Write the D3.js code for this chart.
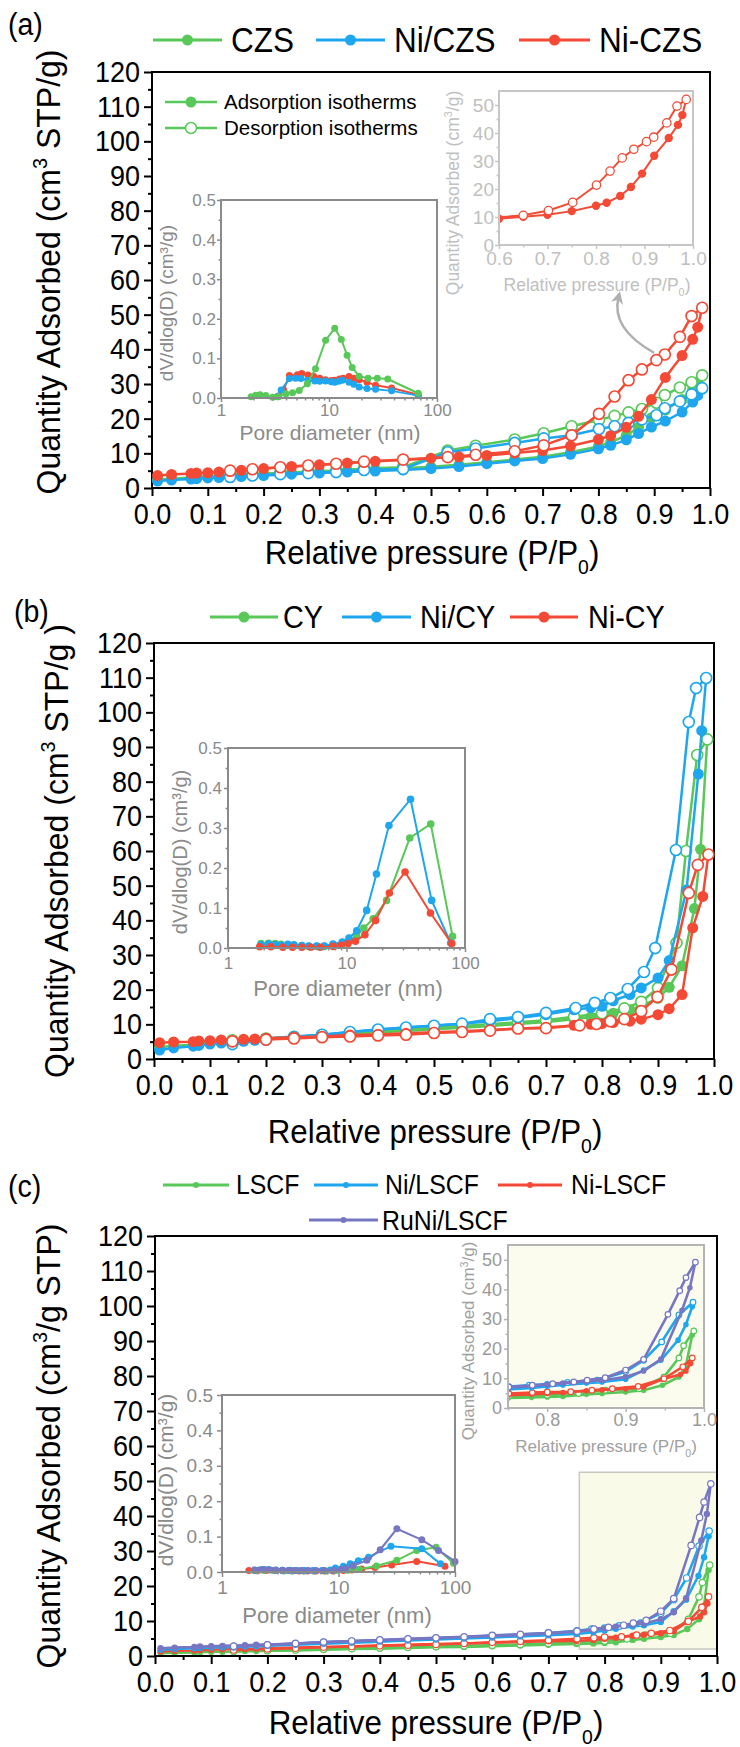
<!DOCTYPE html>
<html>
<head>
<meta charset="utf-8">
<script src="https://cdn.jsdelivr.net/npm/d3@7"></script>
<style>
  body { margin: 0; background: #fff; }
</style>
</head>
<body>
<svg id="fig" width="740" height="1747"></svg>
<script>
// ---------- data: panel (a) CZS family ----------
const aAdsP = [0.01,0.035,0.07,0.08,0.1,0.12,0.16,0.2,0.25,0.3,0.35,0.4,0.45,0.5,0.55,0.6,0.65,0.7,0.75,0.8,0.822,0.85,0.872,0.895,0.92,0.95,0.969,0.978];
const aDesP = [0.986,0.967,0.946,0.919,0.904,0.878,0.854,0.829,0.801,0.752,0.702,0.65,0.58,0.53,0.45,0.38,0.33,0.28,0.23,0.18,0.14];
const czsAds   = [2.4,2.7,3.0,3.1,3.3,3.4,3.8,4.1,4.5,4.8,5.1,5.4,5.7,6.1,6.7,7.4,8.2,9.0,10.3,12.0,13.2,15.2,17.5,20.3,22.5,25.5,28.5,30.5];
const czsDes   = [32.5,30.5,29.0,26.8,24.6,22.8,21.8,20.8,19.6,17.8,15.8,14.0,12.2,10.8,6.0,5.6,5.0,4.7,4.3,3.9,3.5];
const niCzsAds = [2.0,2.3,2.6,2.7,2.9,3.0,3.3,3.6,4.0,4.3,4.6,4.9,5.2,5.6,6.2,7.0,7.8,8.5,9.7,11.3,12.3,13.9,15.7,17.6,19.3,21.9,24.8,26.7];
const niCzsDes = [28.8,27.0,25.0,23.0,21.0,19.8,18.8,17.8,17.0,15.2,14.3,13.0,11.4,10.3,5.5,5.2,4.6,4.3,4.0,3.6,3.2];
const niDCzsAds = [3.6,3.9,4.2,4.3,4.4,4.6,5.1,5.6,6.2,6.7,7.2,7.7,8.1,8.6,9.0,9.4,10.1,10.8,12.1,14.0,15.1,17.5,20.7,25.5,31.9,38.2,42.9,46.4];
const niDCzsDes = [52.0,49.6,43.6,38.5,36.9,34.2,31.1,26.4,21.4,15.2,12.3,10.6,9.6,8.9,8.2,7.6,7.0,6.5,6.0,5.4,5.0];
// pore size distributions (a)
const aPsdGreenD = [1.9,2.1,2.3,2.6,3.0,3.4,4.0,4.6,5.3,6.3,7.5,9.3,11.3,13.0,14.7,16.4,19,23,28,35,67];
const aPsdGreenV = [0.003,0.007,0.008,0.006,0.002,0.003,0.011,0.013,0.019,0.036,0.074,0.146,0.176,0.148,0.108,0.077,0.055,0.05,0.05,0.048,0.012];
const aPsdBlueD  = [3.3,3.6,4.3,4.9,5.5,6.4,7.4,8.2,9.3,10.5,11.3,12.3,13.3,15.3,17,19,22.5,27,38,67];
const aPsdBlueV  = [0.003,0.02,0.049,0.05,0.049,0.045,0.043,0.042,0.043,0.041,0.04,0.042,0.045,0.04,0.035,0.028,0.024,0.022,0.018,0.006];
const aPsdRedD   = [3.4,3.8,4.3,5.1,5.6,6.4,7.2,8.2,9.3,10.5,11.3,12.5,13.5,15.3,17,19,22.5,27,38,67];
const aPsdRedV   = [0.005,0.02,0.057,0.059,0.062,0.058,0.055,0.05,0.046,0.044,0.045,0.048,0.05,0.054,0.05,0.046,0.04,0.032,0.025,0.008];

// ---------- data: panel (b) CY family ----------
const cyAdsP = [0.01,0.035,0.07,0.08,0.1,0.12,0.16,0.18,0.2,0.25,0.3,0.35,0.4,0.45,0.5,0.55,0.6,0.65,0.7,0.75,0.78,0.8,0.82,0.85,0.87,0.9,0.92,0.943,0.965,0.976];
const cyAds  = [3.4,3.8,4.1,4.3,4.6,4.9,5.3,5.5,5.8,6.3,6.8,7.3,7.7,8.1,8.6,9.0,9.5,10.1,10.7,11.5,12.1,12.5,13.2,14.2,15.3,17.5,20.7,26.9,43.4,60.5];
const cyDesP = [0.988,0.97,0.95,0.933,0.9,0.87,0.84,0.8,0.75,0.7,0.65,0.6,0.55,0.5,0.45,0.4,0.35,0.3,0.25,0.2,0.14];
const cyDes  = [92.2,87.7,60,33.5,20.5,16.5,14.6,13.2,12.2,11.2,10.6,10.0,9.5,9.0,8.5,8.0,7.4,6.9,6.4,5.9,5.4];
const niCyAdsP = [0.01,0.035,0.07,0.08,0.1,0.12,0.16,0.18,0.2,0.25,0.3,0.35,0.4,0.45,0.5,0.55,0.6,0.65,0.7,0.75,0.78,0.8,0.82,0.85,0.87,0.9,0.92,0.951,0.972,0.978];
const niCyAds  = [2.6,3.2,3.7,3.9,4.3,4.6,5.1,5.4,5.9,6.5,7.0,7.8,8.5,9.1,9.7,10.2,10.9,11.8,12.8,14.2,14.8,15.2,16.8,18.6,20.5,23.4,28.4,48.8,82.2,94.7];
const niCyDesP = [0.986,0.968,0.955,0.932,0.895,0.875,0.846,0.815,0.787,0.753,0.7,0.65,0.6,0.55,0.5,0.45,0.4,0.35,0.3,0.25,0.2,0.14];
const niCyDes  = [109.9,107,97.2,60.3,32.0,25.1,20.2,17.6,16.2,14.7,13.3,12.1,11.5,10.2,9.6,9.1,8.5,7.8,7.0,6.3,5.6,4.3];
const niDCyAdsP = [0.01,0.035,0.07,0.08,0.1,0.12,0.16,0.18,0.2,0.25,0.3,0.35,0.4,0.45,0.5,0.55,0.6,0.65,0.7,0.75,0.78,0.8,0.82,0.85,0.87,0.9,0.92,0.943,0.962,0.98];
const niDCyAds  = [4.7,4.9,5.0,5.2,5.3,5.5,5.7,5.8,6.0,6.3,6.5,6.9,7.1,7.4,7.7,8.0,8.4,8.8,9.1,9.7,10.0,10.2,10.5,10.9,11.5,12.8,14.5,18.6,37.8,46.9];
const niDCyDesP = [0.99,0.971,0.955,0.924,0.899,0.87,0.84,0.815,0.79,0.76,0.7,0.65,0.6,0.55,0.5,0.45,0.4,0.35,0.3,0.25,0.2,0.14];
const niDCyDes  = [59,56,47.9,25.8,17.9,13.8,11.5,10.9,10.1,9.7,8.9,8.8,8.2,7.8,7.5,7.0,6.8,6.5,6.3,5.9,5.6,5.1];
// pore size distributions (b)
const bPsdBlueD  = [1.9,2.2,2.5,2.8,3.2,3.6,4.2,4.8,5.6,6.5,7.7,9.2,10.5,12.2,14.8,17.9,22.8,34.7,52.3,75.7];
const bPsdBlueV  = [0.008,0.01,0.008,0.007,0.009,0.008,0.006,0.005,0.005,0.005,0.01,0.015,0.025,0.043,0.094,0.185,0.306,0.372,0.119,0.0125];
const bPsdGreenD = [1.9,2.2,2.5,2.8,3.2,3.6,4.2,4.8,5.6,6.5,7.7,9.2,10.5,12.2,14,16.8,21.8,34.2,51.4,78.5];
const bPsdGreenV = [0.011,0.012,0.011,0.009,0.008,0.007,0.005,0.004,0.004,0.004,0.006,0.01,0.018,0.03,0.05,0.073,0.119,0.275,0.31,0.029];
const bPsdRedD   = [1.85,2.3,2.9,3.5,4.2,5,6,7.7,9,10.3,11.9,14.3,17.6,23,31.2,51.1,77.4];
const bPsdRedV   = [0.003,0.003,0.002,0.002,0.002,0.002,0.002,0.004,0.007,0.011,0.017,0.033,0.069,0.1375,0.19,0.0875,0.011];

// ---------- data: panel (c) LSCF family ----------
const lscfAdsP = [0.01,0.035,0.07,0.08,0.1,0.12,0.14,0.16,0.18,0.2,0.25,0.3,0.35,0.4,0.45,0.5,0.55,0.6,0.65,0.7,0.75,0.78,0.8,0.82,0.85,0.87,0.9,0.923,0.947,0.968,0.977,0.985];
const lscfAds  = [0.8,0.9,1.0,1.1,1.2,1.2,1.3,1.4,1.4,1.5,1.6,1.8,2.0,2.1,2.3,2.5,2.6,2.8,3.0,3.2,3.4,3.6,3.7,3.9,4.6,4.9,5.4,6.0,7.7,10.5,14.4,24.6];
const lscfDesP = [0.987,0.974,0.968,0.949,0.917,0.874,0.84,0.8,0.751,0.7,0.65,0.6,0.55,0.5,0.45,0.4,0.35,0.3,0.25,0.2,0.14];
const lscfDes  = [26,21,16.9,10.5,6.5,6.0,4.9,4.3,4.0,3.6,3.3,3.1,2.9,2.7,2.5,2.3,2.1,1.9,1.7,1.5,1.3];
const niLscfAdsP = [0.01,0.035,0.07,0.08,0.1,0.12,0.14,0.16,0.18,0.2,0.25,0.3,0.35,0.4,0.45,0.5,0.55,0.6,0.65,0.7,0.75,0.78,0.8,0.82,0.85,0.87,0.9,0.923,0.945,0.967,0.977,0.985];
const niLscfAds  = [1.8,2.0,2.2,2.3,2.4,2.5,2.6,2.7,2.8,2.9,3.2,3.5,3.8,4.1,4.4,4.7,5.0,5.3,5.6,5.9,6.3,6.8,7.3,7.8,8.4,8.8,9.7,12.8,16.1,22.9,28.2,34.2];
const niLscfDesP = [0.986,0.968,0.946,0.923,0.9,0.864,0.826,0.8,0.777,0.751,0.7,0.6,0.5,0.45,0.4,0.35,0.3,0.25,0.2,0.14];
const niLscfDes  = [35.7,31.4,22.3,16.1,12.2,9.4,8.6,8.0,7.7,7.2,6.6,5.8,5.1,4.8,4.5,4.2,3.9,3.5,3.1,2.6];
const niDLscfAdsP = [0.01,0.035,0.07,0.08,0.1,0.12,0.14,0.16,0.18,0.2,0.25,0.3,0.35,0.4,0.45,0.5,0.55,0.6,0.65,0.7,0.75,0.78,0.8,0.82,0.85,0.87,0.9,0.923,0.947,0.97,0.977,0.983];
const niDLscfAds  = [1.3,1.5,1.6,1.7,1.8,1.9,2.0,2.0,2.1,2.2,2.4,2.6,2.8,3.0,3.2,3.4,3.6,3.8,4.0,4.2,4.3,4.6,4.9,5.2,5.8,6.1,6.5,7.1,9.7,11.3,12.5,15.0];
const niDLscfDesP = [0.985,0.973,0.949,0.916,0.883,0.857,0.83,0.8,0.781,0.751,0.7,0.65,0.6,0.55,0.5,0.45,0.4,0.35,0.3,0.25,0.2,0.14];
const niDLscfDes  = [16.9,13.9,9.9,7.3,6.5,6.0,5.5,5.4,5.2,4.9,4.5,4.2,3.9,3.6,3.3,3.1,2.9,2.7,2.5,2.2,2.0,1.7];
const ruNiAdsP = [0.01,0.035,0.07,0.08,0.1,0.12,0.14,0.16,0.18,0.2,0.25,0.3,0.35,0.4,0.45,0.5,0.55,0.6,0.65,0.7,0.75,0.78,0.8,0.82,0.85,0.87,0.9,0.923,0.945,0.972,0.982];
const ruNiAds  = [2.2,2.4,2.6,2.7,2.8,2.9,3.0,3.1,3.2,3.3,3.6,3.9,4.2,4.5,4.8,5.1,5.4,5.7,6.0,6.4,6.9,7.4,7.9,8.4,9.0,9.3,10.5,12.5,16.5,33,40.6];
const ruNiDesP = [0.989,0.977,0.969,0.954,0.923,0.9,0.874,0.851,0.834,0.807,0.781,0.751,0.7,0.65,0.6,0.55,0.5,0.45,0.4,0.35,0.3,0.25,0.2,0.14];
const ruNiDes  = [49.2,44,39.6,31.6,16.4,12.8,10.2,9.4,8.8,8.2,7.7,7.1,6.6,6.2,5.9,5.5,5.2,4.9,4.6,4.3,4.0,3.6,3.2,2.8];
// pore size distributions (c)
const cPsdPurpleD = [1.9,2.1,2.3,2.6,2.9,3.3,3.7,4.2,4.8,5.5,6.4,7.5,9,10.5,11.5,13.4,17.5,22.8,31.7,51.9,72.2,100];
const cPsdPurpleV = [0.005,0.006,0.007,0.006,0.005,0.005,0.004,0.004,0.004,0.004,0.004,0.004,0.005,0.007,0.01,0.018,0.033,0.063,0.122,0.091,0.061,0.03];
const cPsdBlueD   = [1.9,2.2,2.5,2.9,3.3,3.8,4.4,5.1,6,7.2,8.5,9.4,11,12.6,14.8,18.1,28.2,51.9,75];
const cPsdBlueV   = [0.006,0.007,0.007,0.006,0.005,0.005,0.004,0.004,0.004,0.004,0.006,0.011,0.016,0.023,0.032,0.042,0.073,0.066,0.023];
const cPsdGreenD  = [1.9,2.3,2.8,3.4,4,5,6.2,7.8,9.5,12,15,21.2,31.7,46.9,68.8,97];
const cPsdGreenV  = [0.004,0.004,0.004,0.003,0.003,0.003,0.003,0.003,0.004,0.005,0.008,0.017,0.033,0.061,0.07,0.025];
const cPsdRedD    = [1.7,2.0,2.4,2.8,3.3,3.9,4.6,5.4,6.4,7.6,9,11,13,15.8,20.6,28.6,46.9,82];
const cPsdRedV    = [0.004,0.004,0.004,0.004,0.004,0.004,0.003,0.003,0.003,0.003,0.003,0.004,0.006,0.0085,0.013,0.02,0.03,0.016];

// axis ticks
const yMajor = d3.range(0, 121, 10), yMinor = d3.range(5, 120, 10);
const xMajor = d3.range(0, 11).map(i => i / 10), xMinor = d3.range(0, 10).map(i => i / 10 + 0.05);
const psdYMajor = [0, 0.1, 0.2, 0.3, 0.4, 0.5], psdYMinor = [0.05, 0.15, 0.25, 0.35, 0.45];
const logMinor = [2,3,4,5,6,7,8,9,20,30,40,50,60,70,80,90];

const FONT = '"Liberation Sans", Arial, Helvetica, sans-serif';
const COL = {green: "#58c858", blue: "#1ea6ee", red: "#f44a35", purple: "#7676c2"};
const svg = d3.select("#fig").attr("font-family", FONT);

function pts(p, v) { return p.map((x, i) => [x, v[i]]); }

// squeeze a text horizontally around its own x (the figure uses a narrow face)
function squeeze(sel, sx) {
  if (!sx || sx === 1) return;
  sel.each(function() {
    const t = d3.select(this), x = +t.attr("x") || 0;
    t.attr("transform", `translate(${x},0) scale(${sx},1) translate(${-x},0)`);
  });
}

function styleAxis(sel, o) {
  sel.select(".domain").remove();
  sel.selectAll(".tick line").attr("stroke", o.color).attr("stroke-width", o.sw);
  sel.selectAll(".tick text").attr("fill", o.text).attr("font-size", o.fs).attr("font-family", FONT);
  squeeze(sel.selectAll(".tick text"), o.sx);
}

function addAxes(g, x, y, o) {
  const [x0, x1] = x.range(), [yb, yt] = y.range();
  const ya = g.append("g").attr("transform", `translate(${x0},0)`)
    .call(d3.axisLeft(y).tickValues(o.yMajor).tickFormat(o.yFmt).tickSize(o.tMaj).tickPadding(o.padY));
  styleAxis(ya, o);
  if (o.yMinor) styleAxis(g.append("g").attr("transform", `translate(${x0},0)`)
    .call(d3.axisLeft(y).tickValues(o.yMinor).tickFormat(() => "").tickSize(o.tMin)), o);
  const xa = g.append("g").attr("transform", `translate(0,${yb})`)
    .call(d3.axisBottom(x).tickValues(o.xMajor).tickFormat(o.xFmt).tickSize(o.tMaj).tickPadding(o.padX));
  styleAxis(xa, o);
  if (o.xMinor) styleAxis(g.append("g").attr("transform", `translate(0,${yb})`)
    .call(d3.axisBottom(x).tickValues(o.xMinor).tickFormat(() => "").tickSize(o.tMin)), o);
  g.append("rect").attr("x", x0).attr("y", yt).attr("width", x1 - x0).attr("height", yb - yt)
    .attr("fill", "none").attr("stroke", o.frame || o.color).attr("stroke-width", o.fw || o.sw);
}

// text with sub/superscript parts
function richText(g, x, y, parts, fs, color, rotate, sx) {
  const t = g.append("text").attr("text-anchor", "middle").attr("fill", color).attr("font-size", fs)
    .attr("transform", `translate(${x},${y})` + (rotate ? " rotate(-90)" : "") + (sx ? ` scale(${sx},1)` : ""));
  let shift = 0;
  parts.forEach(p => {
    const [txt, kind] = Array.isArray(p) ? p : [p, ""];
    const target = kind === "sup" ? -fs * 0.38 : kind === "sub" ? fs * 0.3 : 0;
    const ts = t.append("tspan").text(txt).attr("dy", target - shift);
    if (kind) ts.attr("font-size", fs * 0.62);
    shift = target;
  });
  return t;
}

function drawIso(g, x, y, s, r, sw, clip) {
  const line = d3.line().x(d => x(d[0])).y(d => y(d[1]));
  const A = pts(s.adsP, s.ads), D = pts(s.desP, s.des);
  const gg = g.append("g");
  if (clip) gg.attr("clip-path", `url(#${clip})`);
  gg.append("path").attr("d", line(A.concat([D[0]]))).attr("fill", "none").attr("stroke", s.color).attr("stroke-width", sw);
  gg.append("path").attr("d", line(D)).attr("fill", "none").attr("stroke", s.color).attr("stroke-width", sw);
  gg.selectAll(null).data(A).join("circle").attr("cx", d => x(d[0])).attr("cy", d => y(d[1])).attr("r", r)
    .attr("fill", s.color);
  gg.selectAll(null).data(D).join("circle").attr("cx", d => x(d[0])).attr("cy", d => y(d[1])).attr("r", r)
    .attr("fill", "#fff").attr("stroke", s.color).attr("stroke-width", Math.max(1.2, r * 0.3));
}

function drawPsd(g, x, y, s, r, sw) {
  const line = d3.line().x(d => x(d[0])).y(d => y(d[1]));
  const P = pts(s.d, s.v);
  g.append("path").attr("d", line(P)).attr("fill", "none").attr("stroke", s.color).attr("stroke-width", sw);
  g.selectAll(null).data(P).join("circle").attr("cx", d => x(d[0])).attr("cy", d => y(d[1])).attr("r", r).attr("fill", s.color);
}

function legendItem(g, x0, x1, yLine, tx, ty, label, color, fs, r, sw, sx) {
  g.append("line").attr("x1", x0).attr("x2", x1).attr("y1", yLine).attr("y2", yLine).attr("stroke", color).attr("stroke-width", sw);
  g.append("circle").attr("cx", (x0 + x1) / 2).attr("cy", yLine).attr("r", r).attr("fill", color);
  squeeze(g.append("text").attr("x", tx).attr("y", ty).attr("font-size", fs).text(label), sx);
}

function clipRect(id, x, y) {
  const [x0, x1] = x.range(), [yb, yt] = y.range();
  svg.append("clipPath").attr("id", id).append("rect").attr("x", x0).attr("y", yt).attr("width", x1 - x0).attr("height", yb - yt);
}

const mainOpt = {color: "#000", text: "#000", fs: 30, sx: 0.9, sw: 2, tMaj: 8, tMin: 4, padX: 7, padY: 4,
  yMajor, yMinor, xMajor, xMinor, yFmt: d3.format("d"), xFmt: d3.format(".1f")};
const grayPsd = {color: "#8a8a8a", text: "#8a8a8a", sw: 1.5, fw: 2, tMaj: 4, tMin: 2.5,
  yMajor: psdYMajor, yMinor: psdYMinor, xMajor: [1, 10, 100], xMinor: logMinor, yFmt: d3.format(".1f"), xFmt: d3.format("d")};
const TITLE = 33;

// ================= panel (a) =================
{
  const g = svg.append("g");
  const x = d3.scaleLinear().domain([0, 1]).range([152, 710]);
  const y = d3.scaleLinear().domain([0, 120]).range([488, 72]);
  squeeze(g.append("text").attr("x", 8).attr("y", 35).attr("font-size", 31).text("(a)"), 0.92);
  legendItem(g, 153, 222, 40, 231, 52, "CZS", COL.green, 35, 5.5, 3, 0.9);
  legendItem(g, 316, 385, 40, 394, 52, "Ni/CZS", COL.blue, 35, 5.5, 3, 0.9);
  legendItem(g, 519, 590, 40, 599, 52, "Ni-CZS", COL.red, 35, 5.5, 3, 0.9);
  addAxes(g, x, y, mainOpt);
  richText(g, 60, 272, ["Quantity Adsorbed (cm", ["3", "sup"], " STP/g)"], TITLE, "#000", true, 0.97);
  richText(g, 432, 564, ["Relative pressure (P/P", ["0", "sub"], ")"], TITLE, "#000", false, 0.95);

  // sub-legend
  g.append("line").attr("x1", 165).attr("x2", 217).attr("y1", 102).attr("y2", 102).attr("stroke", COL.green).attr("stroke-width", 2.5);
  g.append("circle").attr("cx", 191).attr("cy", 102).attr("r", 5.5).attr("fill", COL.green);
  g.append("text").attr("x", 224).attr("y", 109).attr("font-size", 20.5).text("Adsorption isotherms");
  g.append("line").attr("x1", 165).attr("x2", 217).attr("y1", 128).attr("y2", 128).attr("stroke", COL.green).attr("stroke-width", 2.5);
  g.append("circle").attr("cx", 191).attr("cy", 128).attr("r", 5.5).attr("fill", "#fff").attr("stroke", COL.green).attr("stroke-width", 1.5);
  g.append("text").attr("x", 224).attr("y", 135).attr("font-size", 20.5).text("Desorption isotherms");

  const series = [
    {adsP: aAdsP, ads: czsAds, desP: aDesP, des: czsDes, color: COL.green},
    {adsP: aAdsP, ads: niCzsAds, desP: aDesP, des: niCzsDes, color: COL.blue},
    {adsP: aAdsP, ads: niDCzsAds, desP: aDesP, des: niDCzsDes, color: COL.red}
  ];
  series.forEach(s => drawIso(g, x, y, s, 5.5, 2.5));

  // PSD inset
  const ix = d3.scaleLog().domain([1, 100]).range([221, 437]);
  const iy = d3.scaleLinear().domain([0, 0.5]).range([398, 200]);
  const gi = g.append("g");
  gi.append("rect").attr("x", 221).attr("y", 200).attr("width", 216).attr("height", 198).attr("fill", "#fff");
  [{d: aPsdRedD, v: aPsdRedV, color: COL.red}, {d: aPsdBlueD, v: aPsdBlueV, color: COL.blue},
   {d: aPsdGreenD, v: aPsdGreenV, color: COL.green}].forEach(s => drawPsd(gi, ix, iy, s, 3.5, 2));
  addAxes(gi, ix, iy, Object.assign({}, grayPsd, {fs: 17, padX: 2, padY: 1}));
  richText(gi, 173, 303, ["dV/dlog(D) (cm³/g)"], 19, "#8a8a8a", true);
  richText(gi, 330, 440, ["Pore diameter (nm)"], 21, "#8a8a8a");

  // hysteresis inset (Ni-CZS)
  const hx = d3.scaleLinear().domain([0.6, 1.0]).range([499, 693]);
  const hy = d3.scaleLinear().domain([0, 55]).range([245, 91]);
  clipRect("clipA", hx, hy);
  const gh = g.append("g");
  drawIso(gh, hx, hy, series[2], 4.2, 2, "clipA");
  addAxes(gh, hx, hy, {color: "#c6c6c6", text: "#c0c0c0", fs: 19, sw: 1.5, fw: 2, tMaj: 4, tMin: 2.5, padX: 3, padY: 1,
    yMajor: [0, 10, 20, 30, 40, 50], yMinor: [5, 15, 25, 35, 45], xMajor: [0.6, 0.7, 0.8, 0.9, 1.0], xMinor: [0.65, 0.75, 0.85, 0.95],
    yFmt: d3.format("d"), xFmt: d3.format(".1f")});
  richText(gh, 459, 193, ["Quantity Adsorbed (cm", ["3", "sup"], "/g)"], 17.5, "#c0c0c0", true);
  richText(gh, 597, 291, ["Relative pressure (P/P", ["0", "sub"], ")"], 17.5, "#c0c0c0");

  // arrow from curve to inset
  const defs = svg.append("defs");
  defs.append("marker").attr("id", "arrowA").attr("viewBox", "0 0 10 10").attr("refX", 5).attr("refY", 5)
    .attr("markerWidth", 5).attr("markerHeight", 5).attr("orient", "auto")
    .append("path").attr("d", "M0,0 L10,5 L0,10 L3,5 Z").attr("fill", "#b0b0b0");
  const arrowPts = [[0.9, 39], [0.822, 46], [0.836, 55]];
  g.append("path")
    .attr("d", `M${x(arrowPts[0][0])},${y(arrowPts[0][1])} Q${x(arrowPts[1][0])},${y(arrowPts[1][1])} ${x(arrowPts[2][0])},${y(arrowPts[2][1])}`)
    .attr("fill", "none").attr("stroke", "#b0b0b0").attr("stroke-width", 2.5).attr("marker-end", "url(#arrowA)");
}

// ================= panel (b) =================
{
  const g = svg.append("g");
  const x = d3.scaleLinear().domain([0, 1]).range([154, 714]);
  const y = d3.scaleLinear().domain([0, 120]).range([1059, 643]);
  squeeze(g.append("text").attr("x", 14).attr("y", 622).attr("font-size", 31).text("(b)"), 0.92);
  legendItem(g, 210, 278, 617, 283, 628, "CY", COL.green, 32, 5.5, 3, 0.9);
  legendItem(g, 342, 411, 617, 420, 628, "Ni/CY", COL.blue, 32, 5.5, 3, 0.9);
  legendItem(g, 510, 578, 617, 588, 628, "Ni-CY", COL.red, 32, 5.5, 3, 0.9);
  addAxes(g, x, y, mainOpt);
  richText(g, 68, 851, ["Quantity Adsorbed (cm", ["3", "sup"], " STP/g )"], TITLE, "#000", true, 0.97);
  richText(g, 435, 1143, ["Relative pressure (P/P", ["0", "sub"], ")"], TITLE, "#000", false, 0.95);

  [{adsP: cyAdsP, ads: cyAds, desP: cyDesP, des: cyDes, color: COL.green},
   {adsP: niCyAdsP, ads: niCyAds, desP: niCyDesP, des: niCyDes, color: COL.blue},
   {adsP: niDCyAdsP, ads: niDCyAds, desP: niDCyDesP, des: niDCyDes, color: COL.red}]
    .forEach(s => drawIso(g, x, y, s, 5.5, 2.5));

  const ix = d3.scaleLog().domain([1, 100]).range([228, 465]);
  const iy = d3.scaleLinear().domain([0, 0.5]).range([948, 748]);
  const gi = g.append("g");
  [{d: bPsdGreenD, v: bPsdGreenV, color: COL.green}, {d: bPsdBlueD, v: bPsdBlueV, color: COL.blue},
   {d: bPsdRedD, v: bPsdRedV, color: COL.red}].forEach(s => drawPsd(gi, ix, iy, s, 3.8, 2));
  addAxes(gi, ix, iy, Object.assign({}, grayPsd, {fs: 17, padX: 5, padY: 2}));
  richText(gi, 187, 852, ["dV/dlog(D) (cm³/g)"], 20, "#8a8a8a", true);
  richText(gi, 348, 996, ["Pore diameter (nm)"], 22, "#8a8a8a");
}

// ================= panel (c) =================
{
  const g = svg.append("g");
  const x = d3.scaleLinear().domain([0, 1]).range([155, 717]);
  const y = d3.scaleLinear().domain([0, 120]).range([1656, 1236]);
  squeeze(g.append("text").attr("x", 8).attr("y", 1197).attr("font-size", 31).text("(c)"), 0.92);
  legendItem(g, 163, 229, 1185, 236, 1194, "LSCF", COL.green, 27, 3, 3, 0.92);
  legendItem(g, 314, 378, 1185, 385, 1194, "Ni/LSCF", COL.blue, 27, 3, 3, 0.92);
  legendItem(g, 498, 562, 1185, 571, 1194, "Ni-LSCF", COL.red, 27, 3, 3, 0.92);
  legendItem(g, 309, 378, 1220, 382, 1230, "RuNi/LSCF", COL.purple, 27, 3, 3, 0.92);

  const series = [
    {adsP: lscfAdsP, ads: lscfAds, desP: lscfDesP, des: lscfDes, color: COL.green},
    {adsP: niDLscfAdsP, ads: niDLscfAds, desP: niDLscfDesP, des: niDLscfDes, color: COL.red},
    {adsP: niLscfAdsP, ads: niLscfAds, desP: niLscfDesP, des: niLscfDes, color: COL.blue},
    {adsP: ruNiAdsP, ads: ruNiAds, desP: ruNiDesP, des: ruNiDes, color: COL.purple}
  ];
  // zoom region highlighted in the main plot
  const box = {p: [0.755, 1.0], q: [2, 52.5]};
  g.append("rect").attr("x", x(box.p[0])).attr("y", y(box.q[1])).attr("width", x(box.p[1]) - x(box.p[0]))
    .attr("height", y(box.q[0]) - y(box.q[1])).attr("fill", "#fafae8").attr("stroke", "#c8c8c0").attr("stroke-width", 1.5);
  series.forEach(s => drawIso(g, x, y, s, 3.2, 2.5));
  addAxes(g, x, y, mainOpt);
  richText(g, 60, 1446, ["Quantity Adsorbed (cm", ["3", "sup"], "/g STP)"], TITLE, "#000", true, 0.97);
  richText(g, 436, 1734, ["Relative pressure (P/P", ["0", "sub"], ")"], TITLE, "#000", false, 0.95);

  // upper right inset
  const hx = d3.scaleLinear().domain([0.75, 1.0]).range([508, 704]);
  const hy = d3.scaleLinear().domain([0, 55]).range([1408, 1245]);
  clipRect("clipC", hx, hy);
  const gh = g.append("g");
  gh.append("rect").attr("x", 508).attr("y", 1245).attr("width", 196).attr("height", 163).attr("fill", "#fcfcee");
  series.forEach(s => drawIso(gh, hx, hy, s, 2.8, 2.6, "clipC"));
  addAxes(gh, hx, hy, {color: "#b4b4b4", text: "#9a9a9a", fs: 18, sw: 1.5, fw: 2, tMaj: 4, tMin: 2.5, padX: 1, padY: 2,
    yMajor: [0, 10, 20, 30, 40, 50], yMinor: [5, 15, 25, 35, 45], xMajor: [0.8, 0.9, 1.0], xMinor: [0.75, 0.85, 0.95],
    yFmt: d3.format("d"), xFmt: d3.format(".1f")});
  richText(gh, 474, 1341, ["Quantity Adsorbed (cm", ["3", "sup"], "/g)"], 17, "#a0a0a0", true);
  richText(gh, 606, 1452, ["Relative pressure (P/P", ["0", "sub"], ")"], 17, "#a0a0a0");

  // lower left PSD inset
  const ix = d3.scaleLog().domain([1, 100]).range([222, 455]);
  const iy = d3.scaleLinear().domain([0, 0.5]).range([1572, 1395]);
  const gi = g.append("g");
  gi.append("rect").attr("x", 222).attr("y", 1395).attr("width", 233).attr("height", 177).attr("fill", "#fff");
  [{d: cPsdRedD, v: cPsdRedV, color: COL.red}, {d: cPsdGreenD, v: cPsdGreenV, color: COL.green},
   {d: cPsdBlueD, v: cPsdBlueV, color: COL.blue}, {d: cPsdPurpleD, v: cPsdPurpleV, color: COL.purple}]
    .forEach(s => drawPsd(gi, ix, iy, s, 3.5, 2));
  addAxes(gi, ix, iy, Object.assign({}, grayPsd, {fs: 19, tMaj: 5, padX: 4, padY: 4}));
  richText(gi, 173, 1480, ["dV/dlog(D) (cm³/g)"], 21, "#8a8a8a", true);
  richText(gi, 337, 1623, ["Pore diameter (nm)"], 22, "#8a8a8a");
}
</script>
</body>
</html>
